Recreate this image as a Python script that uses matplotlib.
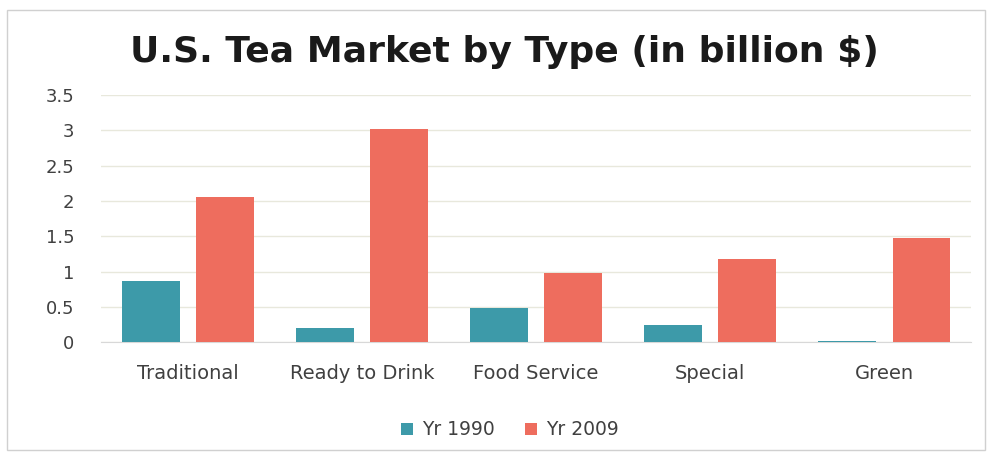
import matplotlib.pyplot as plt
import numpy as np
from matplotlib.patches import Rectangle

categories = ["Traditional", "Ready to Drink", "Food Service", "Special", "Green"]
yr_1990 = [0.87, 0.2, 0.49, 0.25, 0.02]
yr_2009 = [2.05, 3.02, 0.98, 1.18, 1.48]
series_names = ["Yr 1990", "Yr 2009"]
yticks = [0, 0.5, 1, 1.5, 2, 2.5, 3, 3.5]

plt.rcParams['font.family'] = ['DejaVu Sans']

fig = plt.figure(figsize=(9.9, 4.55), dpi=100)
ax = fig.add_axes([0.102, 0.248, 0.879, 0.543])

# 外框
fig.patches.append(Rectangle((0.007, 0.01), 0.988, 0.968, transform=fig.transFigure,
                             fill=False, edgecolor='#d0d0d0', linewidth=1.0))

x = np.arange(len(categories))
w = 0.33
off = 0.213
ax.bar(x - off, yr_1990, width=w, color='#3d9aa9', label=series_names[0], zorder=3)
ax.bar(x + off, yr_2009, width=w, color='#ee6d5e', label=series_names[1], zorder=3)

ax.set_xlim(-0.5, len(categories) - 0.5)
ax.set_ylim(0, 3.5)
ax.set_yticks(yticks)
ax.set_yticklabels([f'{v:g}' for v in yticks], fontsize=13, color='#404040')
ax.set_xticks(x)
ax.set_xticklabels(categories, fontsize=14, color='#404040')
ax.tick_params(axis='y', length=0, pad=19)
ax.tick_params(axis='x', length=0, pad=16)
ax.grid(axis='y', color='#e8e8dc', linewidth=1.0, zorder=0)
for s in ['top', 'right', 'left']:
    ax.spines[s].set_visible(False)
ax.spines['bottom'].set_color('#d8d8d8')

fig.text(0.51, 0.885, "U.S. Tea Market by Type (in billion $)", ha='center', va='center',
         fontsize=26, fontweight='bold', color='#1a1a1a')

fig.legend(loc='center', bbox_to_anchor=(0.515, 0.055), ncol=2, frameon=False,
           fontsize=13.5, handlelength=0.65, handleheight=0.65, columnspacing=1.6,
           handletextpad=0.5, labelcolor='#404040')

fig.savefig("out.png", dpi=100)
